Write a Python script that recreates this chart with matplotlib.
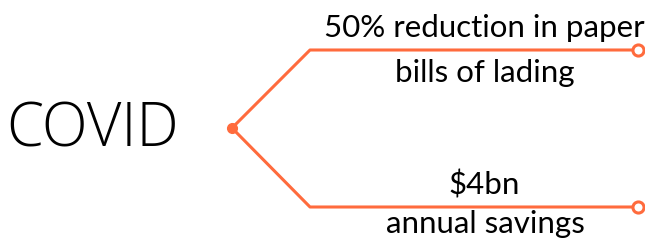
import matplotlib
matplotlib.use("Agg")
import matplotlib.pyplot as plt

# diagram content
root_label = "COVID"
branch_top = ["50% reduction in paper", "$4bn"]
branch_bottom = ["bills of lading", "annual savings"]
branch_y = [50, 207]

orange = "#FF6B3D"

fig = plt.figure(figsize=(6.45, 2.42), dpi=100)
ax = fig.add_axes([0, 0, 1, 1])
ax.set_xlim(0, 645)
ax.set_ylim(242, 0)
ax.axis("off")

x0, y0 = 232, 128
xk, xe = 310, 638

ax.text(93, 131, root_label, fontsize=43, family="Open Sans", fontweight="light",
        ha="center", va="center", color="black")

for y, top, bot in zip(branch_y, branch_top, branch_bottom):
    ax.plot([x0, xk, xe], [y0, y, y], color=orange, lw=2.2, solid_capstyle="round",
            zorder=2)
    ax.plot([xe], [y], marker="o", ms=8, mfc="white", mec=orange, mew=2.2, zorder=3)
    ax.text(484, y - 22, top, fontsize=22.5, family="Lato", ha="center", va="center",
            color="black")
    ax.text(485, min(y + 23, 224), bot, fontsize=22.5, family="Lato", ha="center",
            va="center", color="black")

ax.plot([x0], [y0], marker="o", ms=7, color=orange, zorder=3)

fig.savefig("out.png", dpi=100)
